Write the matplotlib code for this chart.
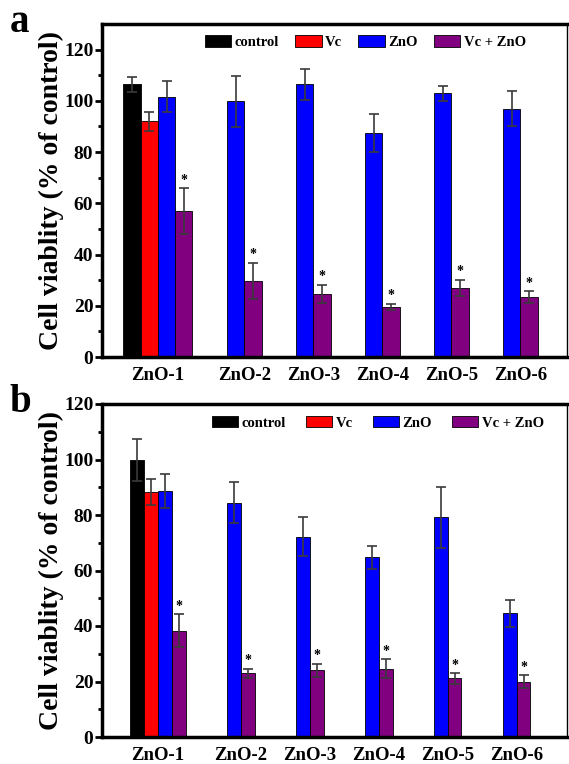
import numpy as np
import matplotlib.pyplot as plt
from matplotlib.patches import Patch

groups = ["ZnO-1", "ZnO-2", "ZnO-3", "ZnO-4", "ZnO-5", "ZnO-6"]
legend_names = ["control", "Vc", "ZnO", "Vc + ZnO"]
colors = ["black", "red", "blue", "purple"]

# panel a
a_control, a_control_err = 106.5, 3.0
a_vc, a_vc_err = 92.0, 3.7
a_zno = [101.6, 99.8, 106.4, 87.5, 102.9, 97.0]
a_zno_err = [6.0, 10.0, 6.0, 7.5, 3.0, 7.0]
a_vczno = [56.9, 29.8, 24.7, 19.5, 27.0, 23.4]
a_vczno_err = [9.0, 7.0, 3.5, 1.3, 3.2, 2.2]

# panel b
b_control, b_control_err = 99.8, 7.6
b_vc, b_vc_err = 88.3, 4.7
b_zno = [88.6, 84.5, 72.2, 64.7, 79.1, 44.6]
b_zno_err = [6.0, 7.3, 6.9, 4.2, 11.1, 4.8]
b_vczno = [38.3, 22.9, 24.0, 24.6, 21.1, 19.9]
b_vczno_err = [6.0, 1.7, 2.4, 3.5, 1.9, 2.4]

plt.rcParams['font.family'] = ['Liberation Serif', 'DejaVu Serif']
plt.rcParams['font.weight'] = 'bold'

fig = plt.figure(figsize=(5.69, 7.64), dpi=100)
W, H = 569, 764


def panel(rect, ctrl, ctrl_err, vc, vc_err, zno, zno_err, vczno, vczno_err, w, ymax, xlim, letter,
          leg_x, leg_y, colsp):
    l, t, r, b = rect
    ax = fig.add_axes([l / W, 1 - b / H, (r - l) / W, (b - t) / H])
    x = np.arange(len(groups))
    ek = dict(ecolor='#3a3a3a', elinewidth=1.2, capsize=3.5, capthick=1.2)
    ax.bar(-2 * w, ctrl, w, yerr=ctrl_err, color=colors[0], edgecolor='black', linewidth=0.6, error_kw=ek)
    ax.bar(-w, vc, w, yerr=vc_err, color=colors[1], edgecolor='black', linewidth=0.6, error_kw=ek)
    ax.bar(x, zno, w, yerr=zno_err, color=colors[2], edgecolor='black', linewidth=0.6, error_kw=ek)
    ax.bar(x + w, vczno, w, yerr=vczno_err, color=colors[3], edgecolor='black', linewidth=0.6, error_kw=ek)
    for xi, v, e in zip(x + w, vczno, vczno_err):
        ax.annotate("*", (xi, v + e), xytext=(0, 1), textcoords='offset points',
                    ha='center', va='bottom', fontsize=10, fontweight='bold')
    ticks = [-w / 2] + list(x[1:] + w / 2)
    ax.set_xticks(ticks)
    ax.set_xticklabels(groups, fontsize=13.5, fontweight='bold')
    ax.tick_params(axis='x', length=0, pad=7)
    ax.set_xlim(*xlim)
    ax.set_ylim(0, ymax)
    ax.set_yticks(np.arange(0, 121, 20))
    ax.set_yticks(np.arange(10, 121, 20), minor=True)
    ax.tick_params(axis='y', which='major', labelsize=14, length=5, width=2, pad=1)
    ax.tick_params(axis='y', which='minor', length=3, width=2)
    for s in ['left', 'bottom', 'top']:
        ax.spines[s].set_linewidth(2.5)
    ax.spines['right'].set_linewidth(1.0)
    ax.set_ylabel("Cell viablity (% of control)", fontsize=20, fontweight='bold', labelpad=0)
    handles = [Patch(facecolor=c, edgecolor='black', linewidth=0.6) for c in colors]
    ax.legend(handles, legend_names, loc='center left', bbox_to_anchor=((leg_x - l) / (r - l), leg_y),
              ncol=4, frameon=False, borderpad=0, borderaxespad=0,
              prop={'weight': 'bold', 'size': 10.5}, handlelength=1.8, handleheight=0.8,
              columnspacing=colsp, handletextpad=0.25)
    fig.text((l - 92) / W, 1 - (t - 2) / H, letter, fontsize=28, fontweight='bold', va='center', ha='left')
    return ax


panel((101.7, 24, 567, 357), a_control, a_control_err, a_vc, a_vc_err, a_zno, a_zno_err,
      a_vczno, a_vczno_err, 0.25, 130, (-0.94, 5.80), "a", 205, 0.945, 1.1)
panel((101.7, 404, 567, 737), b_control, b_control_err, b_vc, b_vc_err, b_zno, b_zno_err,
      b_vczno, b_vczno_err, 0.2, 120, (-0.917, 5.83), "b", 212, 0.943, 1.35)

fig.savefig("out.png", dpi=100)
